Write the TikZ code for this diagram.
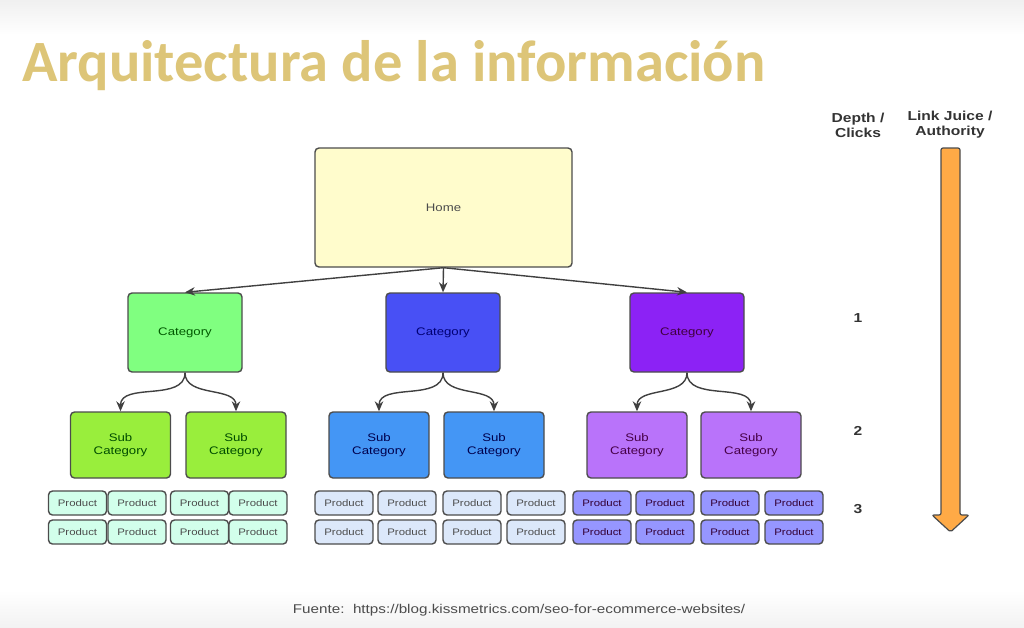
\documentclass[tikz,border=0pt]{standalone}
\usepackage{fontspec}
\setmainfont{Liberation Sans}
\newfontfamily\titlefont{Carlito}
\newfontfamily\boxfont[FakeStretch=1.2]{Liberation Sans}
\usetikzlibrary{arrows.meta}
\definecolor{TitleGold}{RGB}{221,197,120}
\definecolor{HomeYellow}{RGB}{255,252,204}
\definecolor{CatGreen}{RGB}{128,255,128}
\definecolor{CatBlue}{RGB}{72,80,245}
\definecolor{CatPurple}{RGB}{140,34,245}
\definecolor{SubGreen}{RGB}{153,238,60}
\definecolor{SubBlue}{RGB}{68,150,245}
\definecolor{SubPurple}{RGB}{185,115,250}
\definecolor{ProdGreen}{RGB}{210,255,235}
\definecolor{ProdBlue}{RGB}{220,232,250}
\definecolor{ProdPurple}{RGB}{150,150,255}
\definecolor{FlowOrange}{RGB}{255,170,70}
\tikzset{
  box/.style={draw=black!70,line width=1.4pt,rounded corners=4pt,align=center,inner sep=0pt,
    font=\boxfont\fontsize{11}{13}\selectfont},
  cat/.style={box,minimum width=114,minimum height=79},
  sub/.style={box,minimum width=100,minimum height=66},
  prod/.style={box,minimum width=58,minimum height=24,text=black!70,
    font=\boxfont\fontsize{9.5}{10}\selectfont},
  link/.style={draw=black!75,line width=1.4pt,-{Stealth[length=10pt,width=8.5pt]}},
  hdr/.style={align=center,text=black!80,font=\boxfont\bfseries\fontsize{13}{15}\selectfont},
  flow/.style={draw=black!70,line width=1.2pt,fill=FlowOrange,rounded corners=2pt},
}

\begin{document}
\begin{tikzpicture}[x=1pt,y=-1pt]
    \useasboundingbox (0,0) rectangle (1024,627);
    \shade[top color=black!6,bottom color=white] (0,0) rectangle (1024,35);
    \shade[top color=white,bottom color=black!5] (0,590) rectangle (1024,627);
    \node[anchor=base west,inner sep=0pt,text=TitleGold,
      font=\titlefont\bfseries\fontsize{58.5}{64}\selectfont] (title) at (22,81) {Arquitectura de la información};

    % tree
    \node[box,minimum width=257,minimum height=119,fill=HomeYellow,text=black!70] (home) at (443.5,207.5) {Home};
    \node[cat,fill=CatGreen,text=green!35!black] (c1) at (185,332.5) {Category};
    \node[cat,fill=CatBlue,text=blue!45!black] (c2) at (443,332.5) {Category};
    \node[cat,fill=CatPurple,text=violet!50!black] (c3) at (687,332.5) {Category};
    \node[sub,fill=SubGreen,text=green!30!black] (s1) at (120.5,445) {Sub\\Category};
    \node[sub,fill=SubGreen,text=green!30!black] (s2) at (236,445) {Sub\\Category};
    \node[sub,fill=SubBlue,text=blue!30!black] (s3) at (379,445) {Sub\\Category};
    \node[sub,fill=SubBlue,text=blue!30!black] (s4) at (494,445) {Sub\\Category};
    \node[sub,fill=SubPurple,text=violet!55!black] (s5) at (637,445) {Sub\\Category};
    \node[sub,fill=SubPurple,text=violet!55!black] (s6) at (751,445) {Sub\\Category};
    \foreach \c in {c1,c2,c3}
      \draw[link] (home.south) -- (\c.north);
    \foreach \c/\s in {c1/s1,c1/s2,c2/s3,c2/s4,c3/s5,c3/s6}
      \draw[link] (\c.south) to[out=-90,in=90] (\s.north);

    % products
    \foreach \x [count=\i] in {77.5,137,199.5,258} {
      \node[prod,fill=ProdGreen] (pg\i a) at (\x,503) {Product};
      \node[prod,fill=ProdGreen] (pg\i b) at (\x,532) {Product};
    }
    \foreach \x [count=\i] in {344,407,472,536} {
      \node[prod,fill=ProdBlue] (pb\i a) at (\x,503) {Product};
      \node[prod,fill=ProdBlue] (pb\i b) at (\x,532) {Product};
    }
    \foreach \x [count=\i] in {602,665,730,794} {
      \node[prod,fill=ProdPurple,text=violet!40!black] (pp\i a) at (\x,503) {Product};
      \node[prod,fill=ProdPurple,text=violet!40!black] (pp\i b) at (\x,532) {Product};
    }

    % depth and authority
    \node[hdr] (depth) at (858,125) {Depth /\\Clicks};
    \node[hdr] (juice) at (950,125) {Link Juice /\\Authority};
    \node[hdr] (d1) at (858,318) {1};
    \node[hdr] (d2) at (858,431) {2};
    \node[hdr] (d3) at (858,509) {3};
    \draw[flow] (941,148) -- (941,515) -- (932,515) -- (950.5,532) -- (969,515)
      -- (960,515) -- (960,148) -- cycle;

    \node[text=black!70,font=\boxfont\fontsize{12.7}{14}\selectfont] (src) at (519,610)
      {Fuente:\ \ https://blog.kissmetrics.com/seo-for-ecommerce-websites/};
  \end{tikzpicture}
\end{document}
